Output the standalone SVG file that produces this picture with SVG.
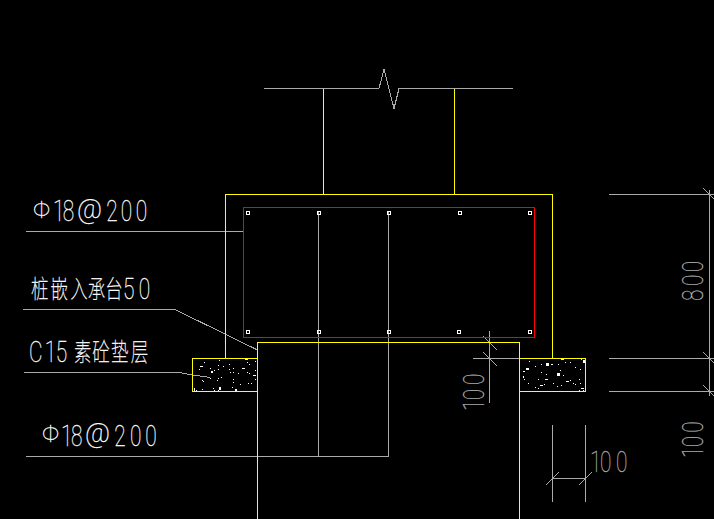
<svg xmlns="http://www.w3.org/2000/svg" width="714" height="519" viewBox="0 0 714 519">
<style>
.y{fill:none;stroke:#ffff00;stroke-width:1;shape-rendering:crispEdges}
.g{fill:none;stroke:#aaaaaa;stroke-width:1;shape-rendering:crispEdges}
.r{fill:none;stroke:#ff0000;stroke-width:1;shape-rendering:crispEdges}
.c{fill:none;stroke:#ffffff;stroke-width:1;shape-rendering:crispEdges}
.d{fill:#ffffff;shape-rendering:crispEdges}
text{font-family:"Roboto","Noto Sans CJK SC",sans-serif;font-weight:100;font-size:29px;fill:#ffffff;stroke:#ffffff;stroke-width:.3}
.cjk{font-family:"Noto Sans CJK SC",sans-serif;font-weight:100;font-size:25px}
.sym{font-size:24px}
.at{font-size:27px}
text.dim{fill:#aaaaaa;stroke:#aaaaaa}
</style>
<rect width="714" height="519" fill="#000000"/>
<g id="connectors">
<path class="g" d="M264 88.5H379L384 69L394 108.5L399 88.5H513"/>
<path class="g" d="M318.5 212V456.5M388.5 212V456.5M26 456.5H388.5"/>
<path class="g" d="M26 231.5H243.5"/>
<path class="g" d="M23 309.5H175L257.5 350"/>
<path class="g" d="M24 372.5H179L192.5 375L210 377.5"/>
<path class="g" d="M489.5 331V402.5M473 358.5H519M483 336L497 350M483 352L497 366"/>
<path class="g" d="M609 194.5H714M609 358.5H714M609 391.5H714M709.5 190V396M703 188L714 199M703 352L714 363M703 385L714 396"/>
<path class="g" d="M552.5 425V502M585.5 425V502M552.5 478.5H585.5M546 485L559 472M579 485L592 472"/>
</g>
<g id="column">
<path class="y" d="M323.5 88.5V194.5M454.5 88.5V194.5"/>
</g>
<g id="cap">
<path class="y" d="M225.5 358.5V194.5H552.5V358.5"/>
</g>
<g id="rebar-cage">
<rect class="r" x="243.5" y="207.5" width="291" height="130"/>
<g id="rebar-dots">
<rect class="c" x="246.5" y="211" width="3" height="3"/>
<rect class="c" x="317" y="211" width="3" height="3"/>
<rect class="c" x="387.5" y="211" width="3" height="3"/>
<rect class="c" x="458" y="211" width="3" height="3"/>
<rect class="c" x="528.5" y="211" width="3" height="3"/>
<rect class="c" x="246.5" y="330.5" width="3" height="3"/>
<rect class="c" x="317" y="330.5" width="3" height="3"/>
<rect class="c" x="387.5" y="330.5" width="3" height="3"/>
<rect class="c" x="457.5" y="330.5" width="3" height="3"/>
<rect class="c" x="528.5" y="330.5" width="3" height="3"/>
</g>
</g>
<g id="pile">
<path class="y" d="M257.5 519V342.5H519.5V519"/>
</g>
<g id="pad-left">
<rect class="y" x="192.5" y="358.5" width="65" height="33"/>
<path class="d" d="M219 360h1v1h-1zM204 362h1v1h-1zM200 366h3v1h-3zM210 368h1v1h-1zM218 365h1v1h-1zM223 366h1v1h-1zM229 364h1v1h-1zM229 369h1v1h-1zM233 368h1v1h-1zM242 368h3v1h-3zM247 362h1v1h-1zM249 364h1v1h-1zM255 361h1v1h-1zM245 359h3v1h-3zM199 369h1v1h-1zM211 371h2v2h-2zM214 370h1v1h-1zM218 369h1v1h-1zM230 372h1v1h-1zM233 372h1v1h-1zM238 373h1v1h-1zM247 372h1v1h-1zM253 375h3v1h-3zM255 370h1v1h-1zM249 373h1v1h-1zM194 388h1v3h-1zM202 389h1v1h-1zM196 390h1v1h-1zM202 380h1v1h-1zM203 381h1v1h-1zM210 378h1v1h-1zM218 378h1v1h-1zM221 377h1v1h-1zM217 380h1v1h-1zM233 382h1v1h-1zM248 383h1v1h-1zM251 383h1v1h-1zM240 384h1v1h-1zM232 387h1v1h-1zM235 389h2v2h-2zM213 388h1v1h-1zM219 387h2v3h-2zM214 390h1v1h-1zM218 390h1v1h-1zM255 379h1v1h-1zM233 379h1v1h-1z"/>
</g>
<g id="pad-right">
<rect class="y" x="519.5" y="358.5" width="66" height="33"/>
<path class="d" d="M561 359h3v1h-3zM546 363h3v3h-3zM541 364h1v1h-1zM551 364h2v1h-2zM529 361h1v1h-1zM526 368h3v2h-3zM535 366h1v1h-1zM523 371h2v1h-2zM565 362h1v1h-1zM570 362h1v1h-1zM575 367h1v1h-1zM581 359h1v1h-1zM583 360h2v3h-2zM580 369h1v1h-1zM558 364h1v1h-1zM560 370h1v1h-1zM557 373h3v3h-3zM563 375h1v1h-1zM541 372h1v1h-1zM546 374h1v1h-1zM538 379h1v1h-1zM545 379h3v1h-3zM524 379h1v1h-1zM523 376h1v2h-1zM566 381h3v1h-3zM570 380h1v1h-1zM579 379h1v1h-1zM528 383h1v1h-1zM535 387h1v1h-1zM540 385h3v1h-3zM544 384h1v1h-1zM538 388h1v1h-1zM553 383h1v1h-1zM557 386h1v1h-1zM561 385h1v1h-1zM573 383h1v1h-1zM575 384h1v1h-1zM580 383h1v1h-1zM581 388h3v1h-3zM579 390h1v1h-1zM583 390h1v1h-1z"/>
</g>
<g id="labels">
<text class="sym" x="33" y="218">Φ</text>
<text transform="translate(35 221) scale(.72 1)"><tspan x="25">1</tspan><tspan x="38.5">8</tspan></text>
<text class="at" x="77" y="218">@</text>
<text transform="translate(35 221) scale(.72 1)"><tspan x="99">2</tspan><tspan x="119">0</tspan><tspan x="140">0</tspan></text>
<text class="sym" x="42" y="442">Φ</text>
<text transform="translate(43 445.5) scale(.72 1)"><tspan x="25">1</tspan><tspan x="39">8</tspan></text>
<text class="at" x="85" y="442">@</text>
<text transform="translate(43 445.5) scale(.72 1)"><tspan x="99">2</tspan><tspan x="121">0</tspan><tspan x="142">0</tspan></text>
<text transform="translate(31 298) scale(.7 1)"><tspan class="cjk" x="0">桩</tspan><tspan class="cjk" x="28">嵌</tspan><tspan class="cjk" x="56">入</tspan><tspan class="cjk" x="81">承</tspan><tspan class="cjk" x="106">台</tspan></text>
<text transform="translate(123 299) scale(.72 1)"><tspan x="0">5</tspan><tspan x="22">0</tspan></text>
<text transform="translate(29 362) scale(.72 1)"><tspan x="0">C</tspan><tspan x="22">1</tspan><tspan x="37">5</tspan></text>
<text transform="translate(74 361) scale(.7 1)"><tspan class="cjk" x="0">素</tspan><tspan class="cjk" x="26">砼</tspan><tspan class="cjk" x="53">垫</tspan><tspan class="cjk" x="81">层</tspan></text>
<text class="dim" transform="translate(484 411) rotate(-90) scale(.72 1)"><tspan x="0">1</tspan><tspan x="15">0</tspan><tspan x="36">0</tspan></text>
<text class="dim" transform="translate(703 301) rotate(-90) scale(.72 1)"><tspan x="0">8</tspan><tspan x="21">0</tspan><tspan x="40">0</tspan></text>
<text class="dim" transform="translate(703 458) rotate(-90) scale(.72 1)"><tspan x="0">1</tspan><tspan x="15">0</tspan><tspan x="35">0</tspan></text>
<text class="dim" transform="translate(590 471.5) scale(.72 1)"><tspan x="0">1</tspan><tspan x="14">0</tspan><tspan x="36">0</tspan></text>
</g>
</svg>
